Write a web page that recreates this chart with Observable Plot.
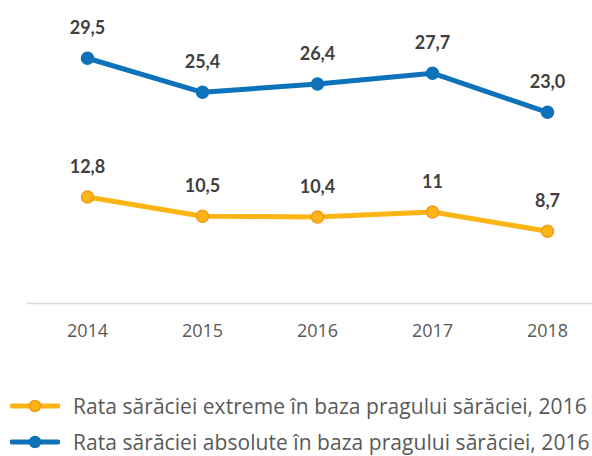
<!DOCTYPE html>
<html>
<head>
<meta charset="utf-8">
<script src="https://cdn.jsdelivr.net/npm/d3@7"></script>
<script src="https://cdn.jsdelivr.net/npm/@observablehq/plot@0.6"></script>
<style>
  body { margin: 0; background: #fff; font-family: "Open Sans", Lato, sans-serif; overflow: hidden; }
  #legend { margin-top: 18px; }
  .row { display: flex; align-items: center; height: 36px; }
  .row svg { margin-left: 10px; margin-right: 13px; flex: none; }
  .row span { display: block; font-size: 21px; line-height: 1; color: #595959; white-space: nowrap; letter-spacing: 0.05px; }
</style>
</head>
<body>
<div id="chart"></div>
<div id="legend"></div>
<script>
const years = ["2014", "2015", "2016", "2017", "2018"];
const absoluteValues = [29.5, 25.4, 26.4, 27.7, 23.0];
const absoluteLabels = ["29,5", "25,4", "26,4", "27,7", "23,0"];
const extremeValues = [12.8, 10.5, 10.4, 11, 8.7];
const extremeLabels = ["12,8", "10,5", "10,4", "11", "8,7"];
const seriesNames = [
  "Rata sărăciei extreme în baza pragului sărăciei, 2016",
  "Rata sărăciei absolute în baza pragului sărăciei, 2016"
];

const blue = "#0E72BA";
const yellow = "#FDB515";
const orange = "#F39A1E";

const absData = years.map((y, i) => ({year: y, value: absoluteValues[i], label: absoluteLabels[i]}));
const extData = years.map((y, i) => ({year: y, value: extremeValues[i], label: extremeLabels[i]}));

const chart = Plot.plot({
  width: 592,
  height: 370,
  marginLeft: 27,
  marginRight: 0,
  marginTop: 12,
  marginBottom: 67,
  x: {type: "point", domain: years, range: [87, 547], padding: 0, label: null},
  y: {domain: [0, 35], axis: null},
  style: {fontFamily: "'Open Sans', Lato, sans-serif", background: "#fff"},
  marks: [
    Plot.ruleY([0], {stroke: "#d9d9d9", strokeWidth: 1.5}),
    Plot.axisX({tickSize: 0, tickPadding: 21, fontSize: 18, fill: "#595959", label: null}),
    Plot.line(absData, {x: "year", y: "value", stroke: blue, strokeWidth: 5}),
    Plot.dot(absData, {x: "year", y: "value", r: 6, fill: blue, stroke: blue}),
    Plot.text(absData, {x: "year", y: "value", text: "label", dy: -30, fontSize: 18, fontWeight: "bold", fontFamily: "Lato, sans-serif", fill: "#404040"}),
    Plot.line(extData, {x: "year", y: "value", stroke: yellow, strokeWidth: 5}),
    Plot.dot(extData, {x: "year", y: "value", r: 6, fill: yellow, stroke: orange, strokeWidth: 1.5}),
    Plot.text(extData, {x: "year", y: "value", text: "label", dy: -30, fontSize: 18, fontWeight: "bold", fontFamily: "Lato, sans-serif", fill: "#404040"})
  ]
});
document.getElementById("chart").appendChild(chart);

const legend = document.getElementById("legend");
[[seriesNames[0], yellow, orange], [seriesNames[1], blue, blue]].forEach(([name, c, s]) => {
  const row = document.createElement("div");
  row.className = "row";
  row.innerHTML = `<svg width="50" height="14"><line x1="2" y1="7" x2="48" y2="7" stroke="${c}" stroke-width="5" stroke-linecap="round"/><circle cx="25" cy="7" r="5.5" fill="${c}" stroke="${s}" stroke-width="1.5"/></svg><span>${name}</span>`;
  legend.appendChild(row);
});
</script>
</body>
</html>
